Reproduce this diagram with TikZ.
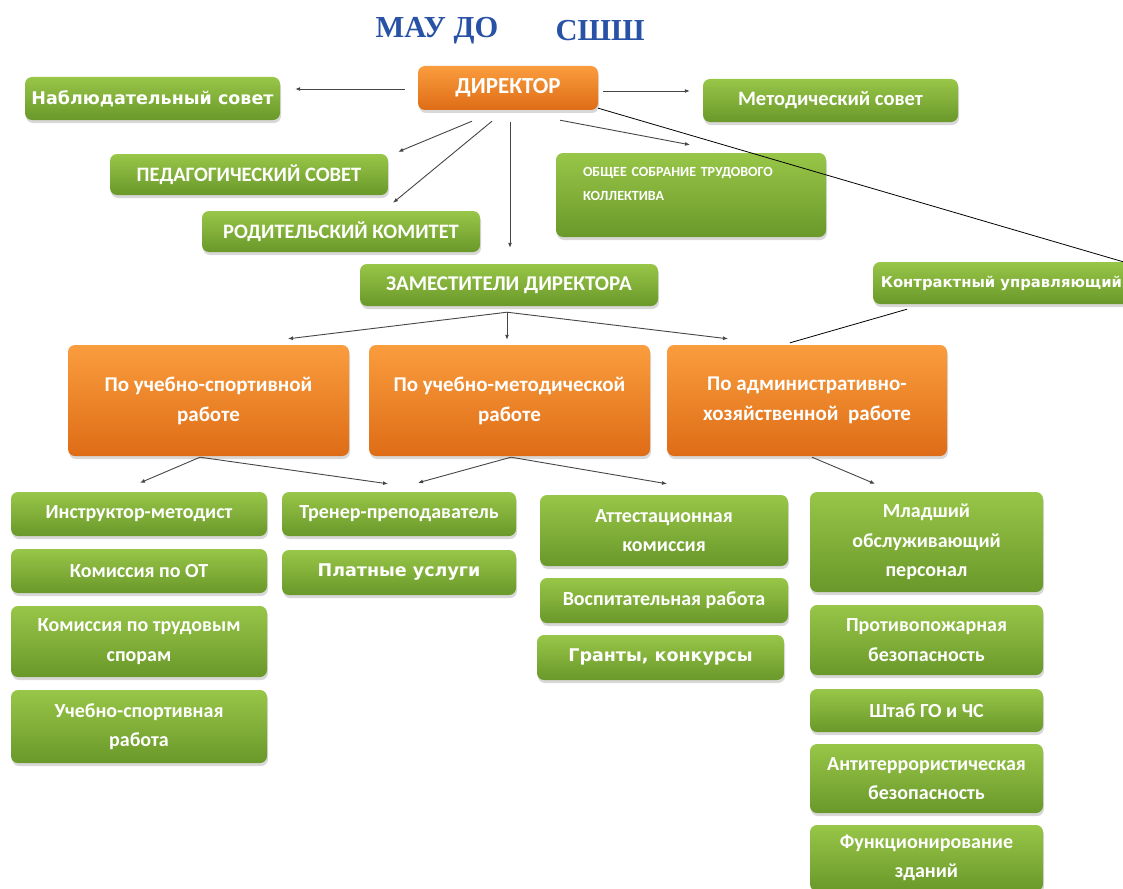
\documentclass[tikz,border=0pt]{standalone}
\usepackage{fontspec}
\setmainfont{Carlito}
\newfontfamily\verd{DejaVu Sans}
\newfontfamily\tnr{Liberation Serif}
\usetikzlibrary{shadows,arrows.meta,calc}
\definecolor{gtop}{RGB}{152,198,72}
\definecolor{gbot}{RGB}{106,152,42}
\definecolor{otop}{RGB}{250,157,62}
\definecolor{obot}{RGB}{222,108,22}
\definecolor{ttl}{RGB}{40,82,165}
\definecolor{ln}{RGB}{70,70,70}
\tikzset{
 base/.style={rounded corners=7pt, inner sep=0pt, text=white, align=center,
   drop shadow={opacity=0.3,shadow xshift=1pt,shadow yshift=-3pt}},
 gbox/.style={base, top color=gtop, bottom color=gbot},
 obox/.style={base, top color=otop, bottom color=obot},
 gtxt/.style={font=\fontsize{20}{29.5}\selectfont\bfseries},
 ctxt/.style={font=\fontsize{20.5}{24}\selectfont\bfseries},
 otxt/.style={font=\fontsize{21}{30}\selectfont\bfseries},
 vtxt/.style={font=\verd\fontsize{17.5}{20}\selectfont\bfseries},
 arr/.style={draw=ln, line width=0.9pt, -{Latex[length=5pt,width=4pt]}},
 plain/.style={draw=black, line width=0.8pt},
}
\begin{document}
\begin{tikzpicture}[x=1pt,y=-1pt]
\useasboundingbox[fill=white] (0,0) rectangle (1123,888);
% title
\node[font=\tnr\bfseries\fontsize{30.5}{32}\selectfont, text=ttl] (title1) at (437,31) {МАУ ДО};
\node[font=\tnr\bfseries\fontsize{30.5}{32}\selectfont, text=ttl] (title2) at (600,31) {СШШ};
% top level
\node[obox, font=\fontsize{23}{26}\selectfont\bfseries, minimum width=180pt, minimum height=44pt] (director) at (508,88) {ДИРЕКТОР};
\node[gbox, vtxt, minimum width=255pt, minimum height=43pt] (nablud) at (152.5,98.5) {Наблюдательный совет};
\node[gbox, gtxt, font=\fontsize{20.5}{24}\selectfont\bfseries, minimum width=255pt, minimum height=43pt] (metod) at (830.5,100.5) {Методический совет};
\node[gbox, ctxt, minimum width=278pt, minimum height=41pt] (ped) at (249,174.5) {ПЕДАГОГИЧЕСКИЙ СОВЕТ};
\node[gbox, ctxt, minimum width=278pt, minimum height=41pt] (rod) at (341,231.5) {РОДИТЕЛЬСКИЙ КОМИТЕТ};
\node[gbox, minimum width=270pt, minimum height=84pt] (obsh) at (691,195) {};
\node[text=white, font=\fontsize{14}{24}\selectfont\bfseries, text width=216pt, align=left, inner sep=0pt] (obshT) at (691,184) {ОБЩЕЕ СОБРАНИЕ ТРУДОВОГО\\КОЛЛЕКТИВА};
\node[gbox, ctxt, font=\fontsize{21}{24}\selectfont\bfseries, minimum width=298pt, minimum height=42pt] (zam) at (509,285) {ЗАМЕСТИТЕЛИ ДИРЕКТОРА};
\node[gbox, vtxt, font=\verd\fontsize{14.8}{18}\selectfont\bfseries, minimum width=257pt, minimum height=42pt] (kontr) at (1001.5,283) {Контрактный управляющий};
% deputies
\node[obox, otxt, minimum width=281pt, minimum height=111pt] (o1) at (208.5,400.5) {По учебно-спортивной\\работе};
\node[obox, otxt, minimum width=281pt, minimum height=111pt] (o2) at (509.5,400.5) {По учебно-методической\\работе};
\node[obox, otxt, minimum width=280pt, minimum height=111pt] (o3) at (807,400.5) {По административно-\\хозяйственной\ \ работе};
% column 1
\node[gbox, gtxt, minimum width=256pt, minimum height=44pt] (g1) at (139,514) {Инструктор-методист};
\node[gbox, gtxt, minimum width=256pt, minimum height=44pt] (g2) at (139,571) {Комиссия по ОТ};
\node[gbox, gtxt, minimum width=256pt, minimum height=71pt] (g3) at (139,641.5) {Комиссия по трудовым\\спорам};
\node[gbox, gtxt, minimum width=256pt, minimum height=73pt] (g4) at (139,726.5) {Учебно-спортивная\\работа};
% column 2
\node[gbox, gtxt, minimum width=234pt, minimum height=44pt] (t1) at (399,514) {Тренер-преподаватель};
\node[gbox, vtxt, minimum width=234pt, minimum height=45pt] (t2) at (399,572.5) {Платные услуги};
% column 3
\node[gbox, gtxt, minimum width=248pt, minimum height=71pt] (a1) at (664,530.5) {Аттестационная\\комиссия};
\node[gbox, gtxt, minimum width=248pt, minimum height=45pt] (a2) at (664,600.5) {Воспитательная работа};
\node[gbox, vtxt, minimum width=247pt, minimum height=45pt] (a3) at (660.5,657.5) {Гранты, конкурсы};
% column 4
\node[gbox, gtxt, minimum width=233pt, minimum height=100pt] (m1) at (926.5,542) {Младший\\обслуживающий\\персонал};
\node[gbox, gtxt, minimum width=233pt, minimum height=70pt] (m2) at (926.5,640) {Противопожарная\\безопасность};
\node[gbox, gtxt, minimum width=233pt, minimum height=43pt] (m3) at (926.5,710.5) {Штаб ГО и ЧС};
\node[gbox, gtxt, minimum width=233pt, minimum height=69pt] (m4) at (926.5,778.5) {Антитеррористическая\\безопасность};
\node[gbox, gtxt, minimum width=233pt, minimum height=66pt] (m5) at (926.5,858) {Функционирование\\зданий};
% connectors from director
\draw[arr] ($(director.west)+(-13,1)$) -- ($(nablud.east)+(15,-9.5)$);
\draw[arr] ($(director.east)+(5,3)$) -- ($(metod.west)+(-13,-9.5)$);
\draw[arr] ($(director.south)+(-36,11)$) -- ($(ped.north east)+(10,-2)$);
\draw[arr] ($(director.south)+(-16,11)$) -- ($(rod.north)+(52,-8)$);
\draw[arr] ($(director.south)+(2,12)$) -- ($(zam.north)+(1,-16)$);
\draw[arr] ($(director.south)+(52,10)$) -- ($(obsh.north)+(-1,-8)$);
\draw[plain] ($(director.south east)+(0,-2)$) -- ($(kontr.north east)+(-7,0)$);
\draw[plain] ($(kontr.south)+(-94.5,5)$) -- ($(o3.north)+(-17,-2)$);
% deputies
\draw[arr] ($(zam.south)+(-2,6)$) -- ($(o1.north)+(79.5,-6)$);
\draw[arr] ($(zam.south)+(-2,6)$) -- ($(o2.north)+(-2.5,-5)$);
\draw[arr] ($(zam.south)+(-2,6)$) -- ($(o3.north)+(-79,-6)$);
% lower level
\draw[arr] ($(o1.south)+(-8.5,1)$) -- ($(g1.north)+(1,-9)$);
\draw[arr] ($(o1.south)+(-8.5,1)$) -- ($(t1.north)+(-11,-8)$);
\draw[arr] ($(o2.south)+(1.5,1)$) -- ($(t1.north)+(19,-9)$);
\draw[arr] ($(o2.south)+(1.5,1)$) -- ($(a1.north)+(3,-11)$);
\draw[arr] ($(o3.south)+(5,1)$) -- ($(m1.north)+(-51.5,-8)$);
\end{tikzpicture}
\end{document}
